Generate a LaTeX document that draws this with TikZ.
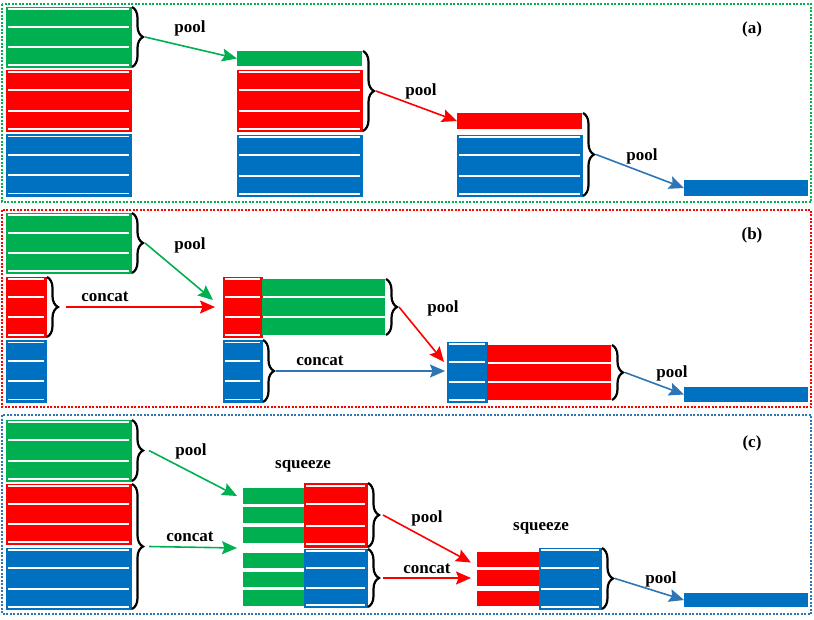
\documentclass[tikz,border=0pt]{standalone}
\usepackage{xcolor}
\usepackage{fontspec}
\setmainfont{Liberation Serif}
\usepackage{tikz}
\usetikzlibrary{arrows.meta}
\usetikzlibrary{positioning}
\usetikzlibrary{calc}
\usetikzlibrary{decorations.pathreplacing}

\definecolor{grn}{RGB}{0,176,80}
\definecolor{blu}{RGB}{0,112,192}
\definecolor{lblu}{RGB}{46,117,182}

\tikzset{
  blk/.style={draw=#1,fill=#1,line width=0.6pt,inner sep=0pt,outer sep=0pt,anchor=north west,
    path picture={
      \foreach \k in {0.04,0.3333,0.6667,0.96}
        \draw[white,line width=1.9pt]
          ($(path picture bounding box.north west)!\k!(path picture bounding box.south west)+(2pt,0)$) --
          ($(path picture bounding box.north east)!\k!(path picture bounding box.south east)+(-2pt,0)$);
    }},
  bar/.style={fill=#1,inner sep=0pt,outer sep=0pt,anchor=north west},
  sz/.style 2 args={minimum width=#1pt,minimum height=#2pt},
  brc/.style={draw=black,line width=2.2pt,decorate,decoration={brace,amplitude=11pt,raise=1pt}},
  arr/.style={draw=#1,line width=1.6pt,-{Stealth[length=15pt,width=13pt,inset=2.5pt]}},
  lbl/.style={font=\bfseries\fontsize{17}{20}\selectfont,inner sep=0pt},
  frame/.style={draw=#1,line width=1.3pt,dash pattern=on 2pt off 1.5pt}
}

\begin{document}
\begin{tikzpicture}[x=1pt,y=-1pt]
\useasboundingbox (0,0) rectangle (814,619);

% (a)
\draw[frame=grn] (2,4) rectangle (811,202);
\node[blk=grn,sz={125}{60}] (a1g) at (6,7) {};
\node[blk=red,sz={125}{61}] (a1r) at (6,70) {};
\node[blk=blu,sz={125}{62}] (a1b) at (6,134) {};
\node[bar=grn,sz={125}{15}] (a2g) at (237,51) {};
\node[blk=red,sz={125}{61}] (a2r) at (237,70) {};
\node[blk=blu,sz={125}{61}] (a2b) at (237,135) {};
\node[bar=red,sz={125}{16}] (a3r) at (457,113) {};
\node[blk=blu,sz={125}{61}] (a3b) at (457,135) {};
\node[bar=blu,sz={124}{16}] (a4b) at (684,180) {};
\draw[brc] (a1g.north east) -- (a1g.south east);
\draw[brc] (a2g.north east) -- (a2r.south east);
\draw[brc] (a3r.north east) -- (a3b.south east);
\coordinate (ta1) at ($(a1g.east)+(14pt,0)$);
\coordinate (ta2) at ($(a2g.north east)!0.5!(a2r.south east)+(14pt,0)$);
\coordinate (ta3) at ($(a3r.north east)!0.5!(a3b.south east)+(14pt,0)$);
\draw[arr=grn] (ta1) -- (a2g.west);
\draw[arr=red] (ta2) -- (a3r.west);
\draw[arr=lblu] (ta3) -- (a4b.west);
\node[lbl] (pa1) at (190,28) {pool};
\node[lbl] (pa2) at (421,91) {pool};
\node[lbl] (pa3) at (642,156) {pool};
\node[lbl] (la) at (752,29) {(a)};

% (b)
\draw[frame=red] (2,210) rectangle (811,407);
\node[blk=grn,sz={125}{60}] (b1g) at (6,213) {};
\node[blk=red,sz={40}{60}] (b1r) at (6,277) {};
\node[blk=blu,sz={40}{62}] (b1b) at (6,340) {};
\node[blk=red,sz={39}{60}] (b2r) at (223,277) {};
\node[bar=grn,sz={123}{17}] (b2g1) at (262,279) {};
\node[bar=grn,sz={123}{18}] (b2g2) at (262,298) {};
\node[bar=grn,sz={123}{17}] (b2g3) at (262,318) {};
\node[blk=blu,sz={39}{62}] (b2b) at (223,340) {};
\node[blk=blu,sz={40}{60}] (b3b) at (447,342) {};
\node[bar=red,sz={124}{17}] (b3r1) at (487,345) {};
\node[bar=red,sz={124}{17}] (b3r2) at (487,364) {};
\node[bar=red,sz={124}{17}] (b3r3) at (487,383) {};
\node[bar=blu,sz={124}{15}] (b4b) at (684,387) {};
\draw[brc] (b1g.north east) -- (b1g.south east);
\draw[brc] (b1r.north east) -- (b1r.south east);
\draw[brc] (b2g1.north east) -- (b2g3.south east);
\draw[brc] (b2b.north east) -- (b2b.south east);
\draw[brc] (b3r1.north east) -- (b3r3.south east);
\coordinate (tb1) at ($(b1g.east)+(14pt,0)$);
\coordinate (tb2) at ($(b1r.east)+(20pt,0)$);
\coordinate (tb3) at ($(b2g1.north east)!0.5!(b2g3.south east)+(14pt,0)$);
\coordinate (tb4) at ($(b2b.east)+(14pt,0)$);
\coordinate (tb5) at ($(b3r1.north east)!0.5!(b3r3.south east)+(14pt,0)$);
\draw[arr=grn] (tb1) -- ([xshift=-10pt,yshift=7pt]b2r.west);
\draw[arr=red] (tb2) -- ([xshift=-8pt]b2r.west);
\draw[arr=red] (tb3) -- ([xshift=-3pt,yshift=10pt]b3b.west);
\draw[arr=lblu] (tb4) -- ([xshift=-2pt,yshift=1pt]b3b.west);
\draw[arr=lblu] (tb5) -- (b4b.west);
\node[lbl] (pb1) at (190,245) {pool};
\node[lbl] (cb1) at (105,297) {concat};
\node[lbl] (pb2) at (443,308) {pool};
\node[lbl] (cb2) at (320,361) {concat};
\node[lbl] (pb3) at (672,373) {pool};
\node[lbl] (lb) at (752,235) {(b)};

% (c)
\draw[frame=lblu] (2,415) rectangle (811,614);
\node[blk=grn,sz={125}{61}] (c1g) at (6,420) {};
\node[blk=red,sz={125}{60}] (c1r) at (6,484) {};
\node[blk=blu,sz={125}{61}] (c1b) at (6,548) {};
\node[bar=grn,sz={61}{16}] (c2g1) at (243,488) {};
\node[bar=grn,sz={61}{16}] (c2g2) at (243,507) {};
\node[bar=grn,sz={61}{16}] (c2g3) at (243,527) {};
\node[bar=grn,sz={61}{15}] (c2g4) at (243,553) {};
\node[bar=grn,sz={61}{15}] (c2g5) at (243,572) {};
\node[bar=grn,sz={61}{16}] (c2g6) at (243,590) {};
\node[blk=red,sz={63}{64}] (c2r) at (304,483) {};
\node[blk=blu,sz={63}{58}] (c2b) at (304,549) {};
\node[bar=red,sz={62}{15}] (c3r1) at (477,552) {};
\node[bar=red,sz={62}{16}] (c3r2) at (477,570) {};
\node[bar=red,sz={62}{15}] (c3r3) at (477,591) {};
\node[blk=blu,sz={62}{61}] (c3b) at (539,548) {};
\node[bar=blu,sz={124}{14}] (c4b) at (684,593) {};
\draw[brc] (c1g.north east) -- (c1g.south east);
\draw[brc] (c1r.north east) -- (c1b.south east);
\draw[brc] (c2r.north east) -- (c2r.south east);
\draw[brc] (c2b.north east) -- (c2b.south east);
\draw[brc] (c3b.north east) -- (c3b.south east);
\coordinate (tc1) at ($(c1g.east)+(18pt,0)$);
\coordinate (tc2) at ($(c1r.north east)!0.5!(c1b.south east)+(18pt,0)$);
\coordinate (tc3) at ($(c2r.east)+(16pt,0)$);
\coordinate (tc4) at ($(c2b.east)+(16pt,0)$);
\coordinate (tc5) at ($(c3b.east)+(14pt,0)$);
\draw[arr=grn] (tc1) -- ([xshift=-6pt]c2g1.west);
\draw[arr=grn] (tc2) -- ([xshift=-6pt]$(c2g3.south west)!0.5!(c2g4.north west)$);
\draw[arr=red] (tc3) -- ([xshift=-6pt,yshift=-3pt]c3r1.west);
\draw[arr=red] (tc4) -- ([xshift=-6pt]c3r2.west);
\draw[arr=lblu] (tc5) -- (c4b.west);
\node[lbl] (pc1) at (191,451) {pool};
\node[lbl] (cc1) at (190,537) {concat};
\node[lbl] (sc1) at (303,466) {squeeze};
\node[lbl] (pc2) at (427,518) {pool};
\node[lbl] (cc2) at (427,569) {concat};
\node[lbl] (sc2) at (541,528) {squeeze};
\node[lbl] (pc3) at (661,579) {pool};
\node[lbl] (lc) at (752,443) {(c)};
\end{tikzpicture}
\end{document}
